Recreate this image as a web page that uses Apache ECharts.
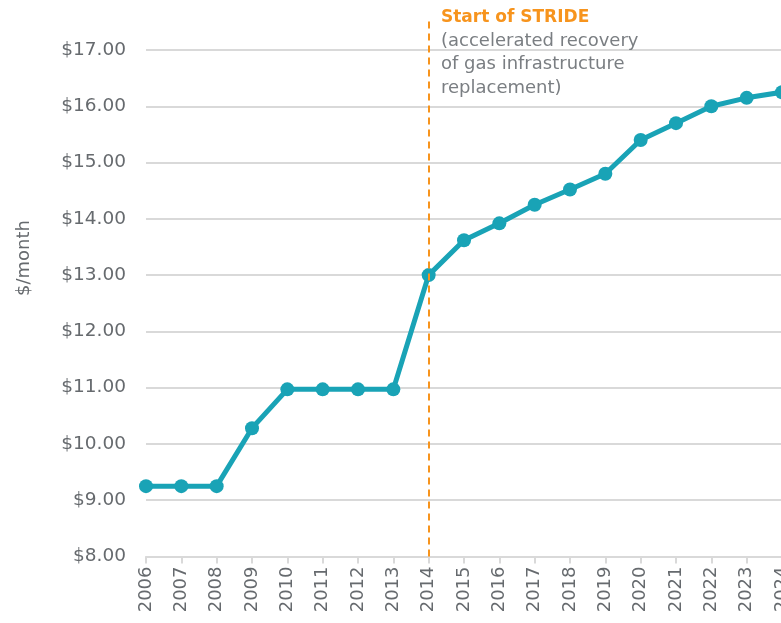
<!doctype html>
<html>
<head>
    <title>STRIDE chart</title>
    <script src="https://cdn.jsdelivr.net/npm/echarts@6/dist/echarts.min.js"></script>
</head>
<style>
    html, body { margin: 0; padding: 0; background: #fff; }
    #chart { width: 781px; height: 623px; }
</style>
<body>
<div id="chart"></div>
<script>
  var years = ['2006', '2007', '2008', '2009', '2010', '2011', '2012', '2013', '2014', '2015',
    '2016', '2017', '2018', '2019', '2020', '2021', '2022', '2023', '2024'];
  var charges = [9.25, 9.25, 9.25, 10.28, 10.97, 10.97, 10.97, 10.97, 13.0, 13.62,
    13.92, 14.25, 14.52, 14.80, 15.40, 15.70, 16.00, 16.15, 16.25];
  var strideYear = '2014';
  var noteTitle = 'Start of STRIDE';
  var noteLines = ['(accelerated recovery', 'of gas infrastructure', 'replacement)'];

  var font = '"DejaVu Sans", sans-serif';
  var gray = '#666a6e';
  var gridColor = '#d9d9d9';

  var myChart = echarts.init(document.getElementById('chart'));

  var option = {
    animation: false,
    title: {
      left: 436,
      top: 1,
      text: '{a|' + noteTitle + '}\n' + noteLines.map(function (l) { return '{b|' + l + '}'; }).join('\n'),
      textStyle: {
        rich: {
          a: { fontFamily: font, fontSize: 17, fontWeight: 'bold', color: '#f7941d', lineHeight: 23.5 },
          b: { fontFamily: font, fontSize: 18, fontWeight: 'normal', color: '#7a7e82', lineHeight: 23.5 }
        }
      }
    },
    graphic: [{
      type: 'text',
      x: 6,
      y: 258,
      rotation: Math.PI / 2,
      style: {
        text: '$/month',
        font: '18px ' + font,
        fill: gray,
        align: 'center',
        verticalAlign: 'top'
      }
    }],
    grid: [
      { left: 146, width: 636, top: 50, height: 506.5, outerBoundsMode: 'none' },
      { left: 146, width: 636, top: 17, height: 539.5, outerBoundsMode: 'none' }
    ],
    xAxis: [{
      type: 'category',
      gridIndex: 0,
      data: years,
      boundaryGap: false,
      axisLine: { lineStyle: { color: gridColor, width: 2 } },
      axisTick: { alignWithLabel: true, length: 7, lineStyle: { color: gridColor, width: 2 } },
      axisLabel: { rotate: 90, fontFamily: font, fontSize: 18, color: gray, margin: 10, interval: 0 }
    }, {
      type: 'category',
      gridIndex: 1,
      data: years,
      boundaryGap: false,
      show: false
    }],
    yAxis: [{
      type: 'value',
      gridIndex: 0,
      min: 8,
      max: 17,
      interval: 1,
      axisLine: { show: false },
      axisTick: { show: false },
      splitLine: { lineStyle: { color: gridColor, width: 2 } },
      axisLabel: {
        fontFamily: font, fontSize: 18.5, color: gray, margin: 20,
        formatter: function (v) { return '$' + v.toFixed(2); }
      }
    }, {
      type: 'value',
      gridIndex: 1,
      min: 0,
      max: 1,
      show: false
    }],
    series: [{
      type: 'line',
      xAxisIndex: 0,
      yAxisIndex: 0,
      data: charges,
      clip: false,
      symbol: 'circle',
      symbolSize: 14,
      lineStyle: { color: '#19a3b6', width: 5 },
      itemStyle: { color: '#19a3b6' },
      z: 3
    }, {
      type: 'line',
      xAxisIndex: 1,
      yAxisIndex: 1,
      data: [],
      silent: true,
      markLine: {
        symbol: 'none',
        silent: true,
        label: { show: false },
        lineStyle: { color: '#f7941d', type: [7, 5], width: 2 },
        data: [{ xAxis: strideYear }]
      },
      z: 2
    }]
  };

  myChart.setOption(option);
</script>
</body>
</html>
